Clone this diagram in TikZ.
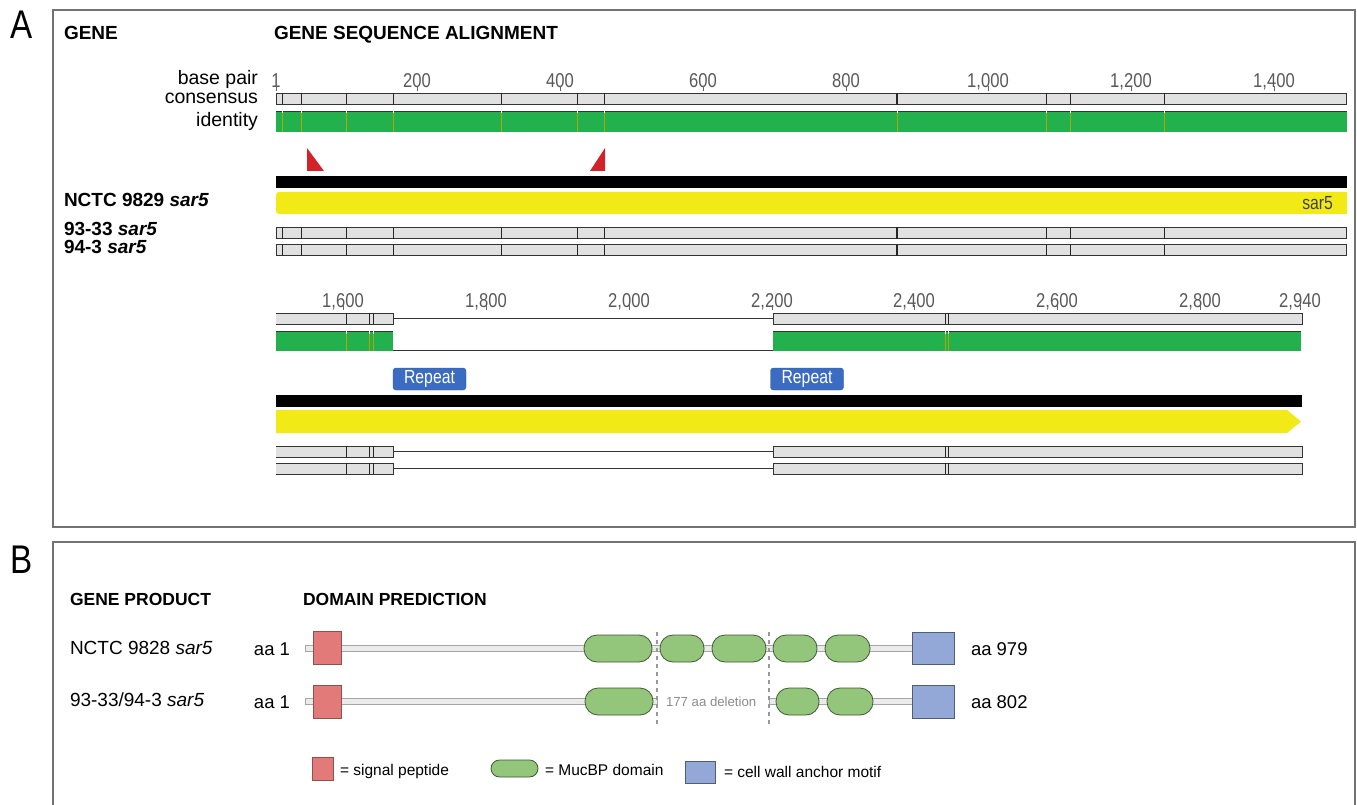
\documentclass[tikz,border=0pt]{standalone}
\usepackage{fontspec}
\setmainfont{Liberation Sans}
\newfontfamily\narrowfont{Liberation Sans}[FakeStretch=0.83]
\usetikzlibrary{shapes, arrows.meta, positioning}

\definecolor{consgray}{HTML}{E0E1E0}
\definecolor{identgreen}{HTML}{22B14C}
\definecolor{seqyellow}{HTML}{F2EA17}
\definecolor{repeatblue}{HTML}{3B6CC1}
\definecolor{arrowred}{HTML}{D4222A}
\definecolor{sigred}{HTML}{E27A7A}
\definecolor{mucgreen}{HTML}{93C57A}
\definecolor{anchorblue}{HTML}{93A8D6}

\begin{document}
\begin{tikzpicture}[x=1pt, y=-1pt,
                    every node/.style={inner sep=0pt, outer sep=0pt},
                    panel/.style={draw=black!55, line width=1.2pt},
                    consbar/.style={draw=black!80, fill=consgray, line width=0.9pt},
                    sepline/.style={draw=black!85, line width=0.9pt},
                    identtick/.style={draw=olive!70!yellow, line width=0.8pt},
                    ticklabel/.style={font=\narrowfont\fontsize{20}{22}\selectfont, text=black!65, anchor=base},
                    trackname/.style={font=\fontsize{19.5}{22}\selectfont, anchor=base east},
                    header/.style={font=\bfseries\fontsize{19}{22}\selectfont, anchor=base west},
                    genename/.style={font=\bfseries\fontsize{19}{22}\selectfont, anchor=base west},
                    repeatbox/.style={fill=repeatblue, draw=repeatblue!80!black, rounded corners=3pt, text=white,
                                      font=\narrowfont\fontsize{19}{21}\selectfont, minimum width=73pt, minimum height=22pt},
                    sigpep/.style={draw=sigred!65!black, fill=sigred, line width=0.8pt},
                    mucbp/.style={draw=mucgreen!45!black, fill=mucgreen, rounded corners=13pt, line width=0.8pt, minimum height=27pt},
                    anchorbox/.style={draw=anchorblue!55!black, fill=anchorblue, line width=0.8pt},
                    backbone/.style={draw=black!35, fill=black!8, line width=0.7pt},
                    prodname/.style={font=\fontsize{19}{22}\selectfont, anchor=base west},
                    aalabel/.style={font=\fontsize{18.5}{22}\selectfont},
                    legendtext/.style={font=\fontsize{15.5}{18}\selectfont, anchor=base west}]

\useasboundingbox[fill=white] (0,0) rectangle (1357,805);

% Panels
\draw[panel] (53,10) rectangle (1355,527);
\draw[panel] (53,806) -- (53,542) -- (1355,542) -- (1355,806);
\node[font=\narrowfont\fontsize{40}{42}\selectfont, anchor=base west] (lblA) at (10,39) {A};
\node[font=\narrowfont\fontsize{40}{42}\selectfont, anchor=base west] (lblB) at (10,573) {B};

% Panel A headers
\node[header] (geneHead) at (64,40) {GENE};
\node[header] (alignHead) at (274,40) {GENE SEQUENCE ALIGNMENT};
\node[trackname] (bpName) at (258,85) {base pair};
\node[trackname] (consName) at (258,104) {consensus};
\node[trackname] (identName) at (258,127) {identity};

% Scale, first row
\foreach \tx/\tl in {276/1, 417/200, 560/400, 703/600, 846/800, 988/{1,000}, 1131/{1,200}, 1274/{1,400}} {
  \node[ticklabel] (tickA\tx) at (\tx,88) {\tl};
  \draw[black!60, line width=0.8pt] (\tx,86) -- (\tx,91);
}

% Consensus bars, first row
\foreach \yt in {93,227.5,244.5} {
  \draw[consbar] (276,\yt) rectangle (1346,\yt+11);
  \foreach \sx in {282,301,346,393,501,577,604,1046,1070,1164}
    \draw[sepline] (\sx,\yt) -- (\sx,\yt+11);
  \draw[sepline, line width=2.2pt] (897,\yt) -- (897,\yt+11);
}

% Identity, first row
\fill[identgreen] (276,111) rectangle (1347,132);
\draw[black!80, line width=0.8pt] (276,111) -- (1347,111);
\foreach \sx in {282,301,346,393,501,577,604,897,1046,1070,1164} {
  \draw[identtick] (\sx,113) -- (\sx,132);
  \draw[white, line width=0.9pt] (\sx,110.5) -- (\sx,113.5);
}

% Mismatch markers
\fill[arrowred] (307,148) -- (307,171) -- (324,171) -- cycle;
\fill[arrowred] (605,148) -- (605,171) -- (590,171) -- cycle;

% Gene track, first row
\fill[black] (276,176) rectangle (1347,188);
\fill[seqyellow] (1347,192) [rounded corners=3pt] -- (276,192) -- (276,214) [sharp corners] -- (1347,214) -- cycle;
\node[font=\narrowfont\fontsize{19}{21}\selectfont, text=black!75, anchor=base east] (sarTag) at (1333,210) {sar5};

\node[genename] (nctc) at (64,207) {NCTC 9829 \textit{sar5}};
\node[genename] (s9333) at (64,235) {93-33 \textit{sar5}};
\node[genename] (s943) at (64,253) {94-3 \textit{sar5}};

% Scale, second row
\foreach \tx/\tl in {343/{1,600}, 486/{1,800}, 629/{2,000}, 772/{2,200}, 914/{2,400}, 1057/{2,600}, 1200/{2,800}, 1300/{2,940}} {
  \node[ticklabel] (tickB\tx) at (\tx,307) {\tl};
  \draw[black!60, line width=0.8pt] (\tx,305) -- (\tx,310);
}

% Consensus bars, second row
\foreach \yt in {313,446,463} {
  \draw[black!80, line width=0.9pt] (393,\yt+5.5) -- (773,\yt+5.5);
  \fill[consgray] (276,\yt) rectangle (393,\yt+11);
  \draw[black!80, line width=0.9pt] (276,\yt) -- (393,\yt) -- (393,\yt+11) -- (276,\yt+11);
  \foreach \sx in {346,369,373.5}
    \draw[sepline] (\sx,\yt) -- (\sx,\yt+11);
  \draw[consbar] (773,\yt) rectangle (1302,\yt+11);
  \foreach \sx in {945,948}
    \draw[sepline] (\sx,\yt) -- (\sx,\yt+11);
}

% Identity, second row
\fill[identgreen] (276,331) rectangle (393,351);
\fill[identgreen] (773,331) rectangle (1301,351);
\draw[black!80, line width=0.8pt] (276,331) -- (393,331);
\draw[black!80, line width=0.8pt] (773,331) -- (1301,331);
\draw[black!80, line width=0.9pt] (393,350) -- (773,350);
\foreach \sx in {346,369,373,945,948} {
  \draw[identtick] (\sx,333) -- (\sx,351);
  \draw[white, line width=0.9pt] (\sx,330.5) -- (\sx,333.5);
}

% Repeats
\node[repeatbox] (rep1) at (429.5,379) {Repeat};
\node[repeatbox] (rep2) at (807,379) {Repeat};

% Gene track, second row
\fill[black] (276,395) rectangle (1302,407);
\fill[seqyellow] (276,410) -- (1287,410) -- (1301,421.5) -- (1287,433) -- (276,433) -- cycle;

% Panel B headers
\node[header, font=\bfseries\fontsize{17.5}{20}\selectfont] (prodHead) at (70,605) {GENE PRODUCT};
\node[header, font=\bfseries\fontsize{17.5}{20}\selectfont] (domHead) at (303,605) {DOMAIN PREDICTION};
\node[prodname] (prodNCTC) at (70,654) {NCTC 9828 \textit{sar5}};
\node[prodname] (prodMut) at (70,706) {93-33/94-3 \textit{sar5}};
\node[aalabel, anchor=base east] (aaStartA) at (290,655) {aa 1};
\node[aalabel, anchor=base east] (aaStartB) at (290,708) {aa 1};
\node[aalabel, anchor=base west] (aaEndA) at (971,655) {aa 979};
\node[aalabel, anchor=base west] (aaEndB) at (971,708) {aa 802};

% Protein backbones
\draw[backbone] (305,645.5) rectangle (912,651.5);
\draw[backbone] (305,698.5) rectangle (657,704.5);
\draw[backbone] (769,698.5) rectangle (912,704.5);

% Deletion
\draw[black!40, line width=1.2pt, dash pattern=on 4pt off 4pt] (657,632) -- (657,727);
\draw[black!40, line width=1.2pt, dash pattern=on 4pt off 4pt] (769,632) -- (769,727);
\node[font=\fontsize{13.2}{15}\selectfont, text=black!45, anchor=base west] (delText) at (666,706) {177 aa deletion};

% Domains
\node[sigpep, minimum width=28pt, minimum height=33pt] (sigA) at (327,648) {};
\node[sigpep, minimum width=28pt, minimum height=33pt] (sigB) at (327,701.5) {};
\foreach \xa/\xb [count=\i] in {584/652, 660/704, 712/766, 773/817, 825/870}
  \node[mucbp, minimum width={\xb-\xa}] (mucA\i) at ({(\xa+\xb)/2},648.5) {};
\foreach \xa/\xb [count=\i] in {585/653, 776/819, 827/873}
  \node[mucbp, minimum width={\xb-\xa}] (mucB\i) at ({(\xa+\xb)/2},701.5) {};
\node[anchorbox, minimum width=42pt, minimum height=32pt] (ancA) at (933,648) {};
\node[anchorbox, minimum width=42pt, minimum height=33pt] (ancB) at (933,701.5) {};

% Legend
\node[sigpep, minimum width=21pt, minimum height=23pt] (legSig) at (323,768.5) {};
\node[legendtext] (legSigText) at (340,775) {= signal peptide};
\node[mucbp, rounded corners=8.5pt, minimum width=47pt, minimum height=17pt] (legMuc) at (514.5,768.5) {};
\node[legendtext] (legMucText) at (545,775) {= MucBP domain};
\node[anchorbox, minimum width=30pt, minimum height=22pt] (legAnc) at (700,772) {};
\node[legendtext] (legAncText) at (724,777) {= cell wall anchor motif};

\end{tikzpicture}
\end{document}
